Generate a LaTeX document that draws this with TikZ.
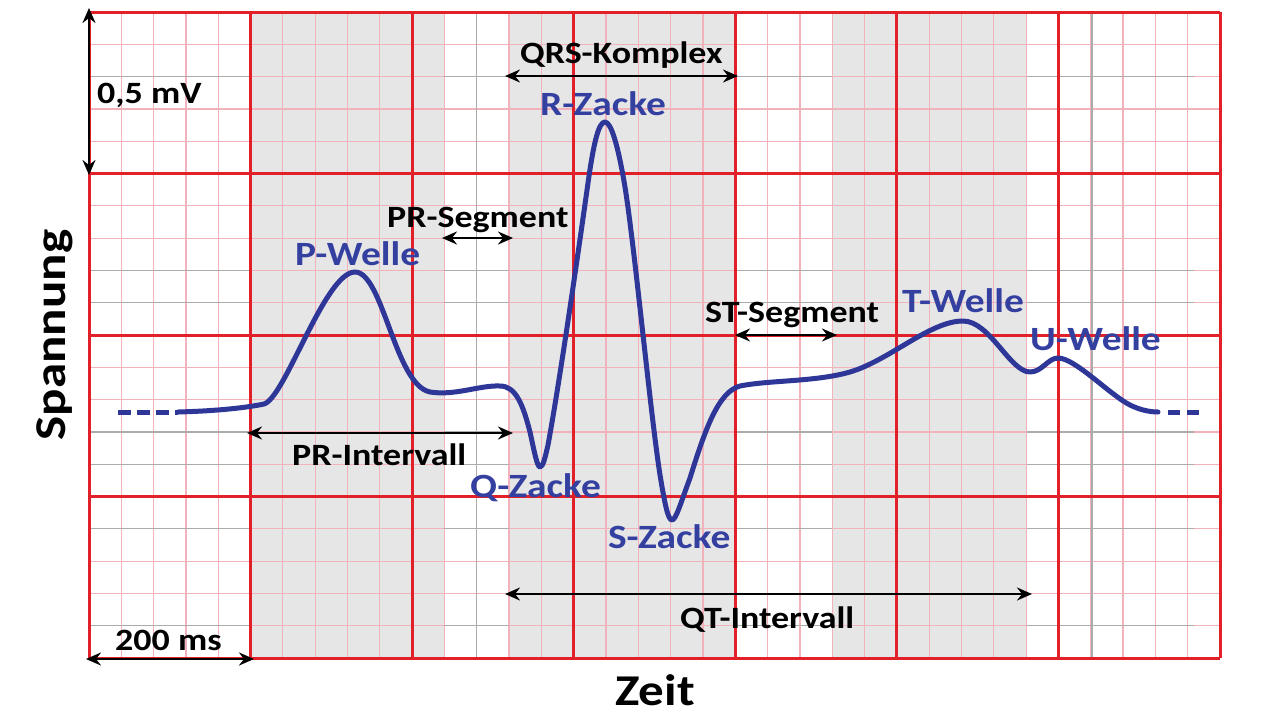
\documentclass[tikz,border=0pt]{standalone}
\usepackage{fontspec}
\newfontfamily\lab{Carlito}[FakeStretch=1.16]
\usetikzlibrary{arrows.meta}
\definecolor{majred}{RGB}{226,32,42}
\definecolor{minpink}{RGB}{242,178,188}
\definecolor{shadegray}{RGB}{230,230,230}
\definecolor{darkline}{RGB}{172,172,172}
\definecolor{ecgblue}{RGB}{46,54,152}
\definecolor{lblblue}{RGB}{52,64,160}
\tikzset{
  dimarrow/.style={line width=2.8pt,
    {Stealth[length=15pt,width=13pt,inset=5pt]}-{Stealth[length=15pt,width=13pt,inset=5pt]}},
  blacklabel/.style={font=\lab\bfseries\fontsize{31}{31}\selectfont, text=black, inner sep=0pt, anchor=base west},
  bluelabel/.style={font=\lab\bfseries\fontsize{34}{34}\selectfont, text=lblblue, inner sep=0pt, anchor=base west},
  axislabel/.style={font=\lab\bfseries\fontsize{44}{44}\selectfont, text=black, inner sep=0pt, anchor=base},
  ecg/.style={ecgblue, line width=5pt, line cap=round, line join=round},
  minorline/.style={minpink, line width=1.2pt},
  darkminor/.style={darkline, line width=1.2pt},
  majorline/.style={majred, line width=3pt},
}
\begin{document}
\begin{tikzpicture}[x=1pt,y=-1pt]
\useasboundingbox (0,0) rectangle (1280,721);
\fill[white] (0,0) rectangle (1280,721);
% shaded columns
\fill[shadegray] (251,12) rectangle (443.5,658);
\fill[shadegray] (509,12) rectangle (735.7,658);
\fill[shadegray] (832,12) rectangle (1026.5,658);
% minor grid
\foreach \i in {1,...,34} \draw[minorline] ({89+\i*32.314},12) -- ({89+\i*32.314},658);
\foreach \j in {1,...,19} \draw[minorline] (89,{12+\j*32.3}) -- (1220,{12+\j*32.3});
% darker minor lines in white columns
\foreach \j in {2,8,9,13,14,16,19}
  \foreach \a/\b in {89/251,443.5/509,735.7/832,1026.5/1194}
    \draw[darkminor] (\a,{12+\j*32.3}) -- (\b,{12+\j*32.3});
\draw[darkminor] (1092,12) -- (1092,658);
\draw[darkminor] (476.8,12) -- (476.8,658);
% major grid
\foreach \i in {0,...,7} \draw[majorline] ({89+\i*161.57},12) -- ({89+\i*161.57},658);
\foreach \j in {0,...,4} \draw[majorline] (89,{12+\j*161.5}) -- (1220,{12+\j*161.5});
% ECG curve
\draw[ecgblue, line width=5pt, dash pattern=on 13pt off 6pt] (118,412) -- (178,412);
\draw[ecgblue, line width=5pt, dash pattern=on 12pt off 7pt] (1168,412) -- (1205,412);
\draw[ecg] (178,412) .. controls (215,411) and (245,408) .. (264,404)
  .. controls (285,398) and (325,272) .. (355,272)
  .. controls (383,272) and (395,385) .. (430,392)
  .. controls (455,396) and (480,385) .. (500,386)
  .. controls (516,386) and (523,405) .. (530,432)
  .. controls (534,450) and (537,467) .. (540,467)
  .. controls (543,467) and (545,458) .. (548,445)
  .. controls (560,380) and (580,240) .. (588,183)
  .. controls (594,140) and (599,122) .. (605,122)
  .. controls (611,122) and (618,145) .. (625,187)
  .. controls (635,250) and (650,410) .. (660,475)
  .. controls (665,505) and (668,520) .. (672,520)
  .. controls (676,520) and (681,502) .. (690,478)
  .. controls (705,430) and (718,392) .. (740,386)
  .. controls (770,380) and (815,382) .. (850,372)
  .. controls (890,360) and (930,321) .. (963,321)
  .. controls (990,321) and (1010,372) .. (1030,372)
  .. controls (1042,372) and (1048,358) .. (1058,358)
  .. controls (1075,358) and (1110,395) .. (1130,405)
  .. controls (1140,410) and (1150,412) .. (1158,412);
% dimension arrows
\coordinate (mvT) at (89,8);   \coordinate (mvB) at (89,175);
\coordinate (qrsL) at (505,76); \coordinate (qrsR) at (738,76);
\coordinate (prsL) at (442,238); \coordinate (prsR) at (513,238);
\coordinate (stL) at (735,335); \coordinate (stR) at (837,335);
\coordinate (priL) at (247,433); \coordinate (priR) at (513,433);
\coordinate (qtL) at (505,594); \coordinate (qtR) at (1032,594);
\coordinate (msL) at (86,659); \coordinate (msR) at (254,659);
\draw[dimarrow] (mvT) -- (mvB);
\draw[dimarrow] (qrsL) -- (qrsR);
\draw[dimarrow] (prsL) -- (prsR);
\draw[dimarrow] (stL) -- (stR);
\draw[dimarrow] (priL) -- (priR);
\draw[dimarrow] (qtL) -- (qtR);
\draw[dimarrow] (msL) -- (msR);
% black labels
\node[blacklabel] (mv) at (97,103) {0,5 mV};
\node[blacklabel] (qrs) at (520,63) {QRS-Komplex};
\node[blacklabel] (prseg) at (387,227) {PR-Segment};
\node[blacklabel] (stseg) at (705,322) {ST-Segment};
\node[blacklabel] (print) at (292,465) {PR-Intervall};
\node[blacklabel] (qtint) at (680,628) {QT-Intervall};
\node[blacklabel] (ms) at (115,650) {200 ms};
% blue labels
\node[bluelabel] (r) at (540,115) {R-Zacke};
\node[bluelabel] (p) at (295,265) {P-Welle};
\node[bluelabel] (t) at (902,312) {T-Welle};
\node[bluelabel] (u) at (1030,350) {U-Welle};
\node[bluelabel] (q) at (470,497) {Q-Zacke};
\node[bluelabel] (s) at (608,548) {S-Zacke};
% axis labels
\node[axislabel] (zeit) at (655,705) {Zeit};
\node[axislabel, rotate=90] (spannung) at (65,335) {Spannung};
\end{tikzpicture}
\end{document}
